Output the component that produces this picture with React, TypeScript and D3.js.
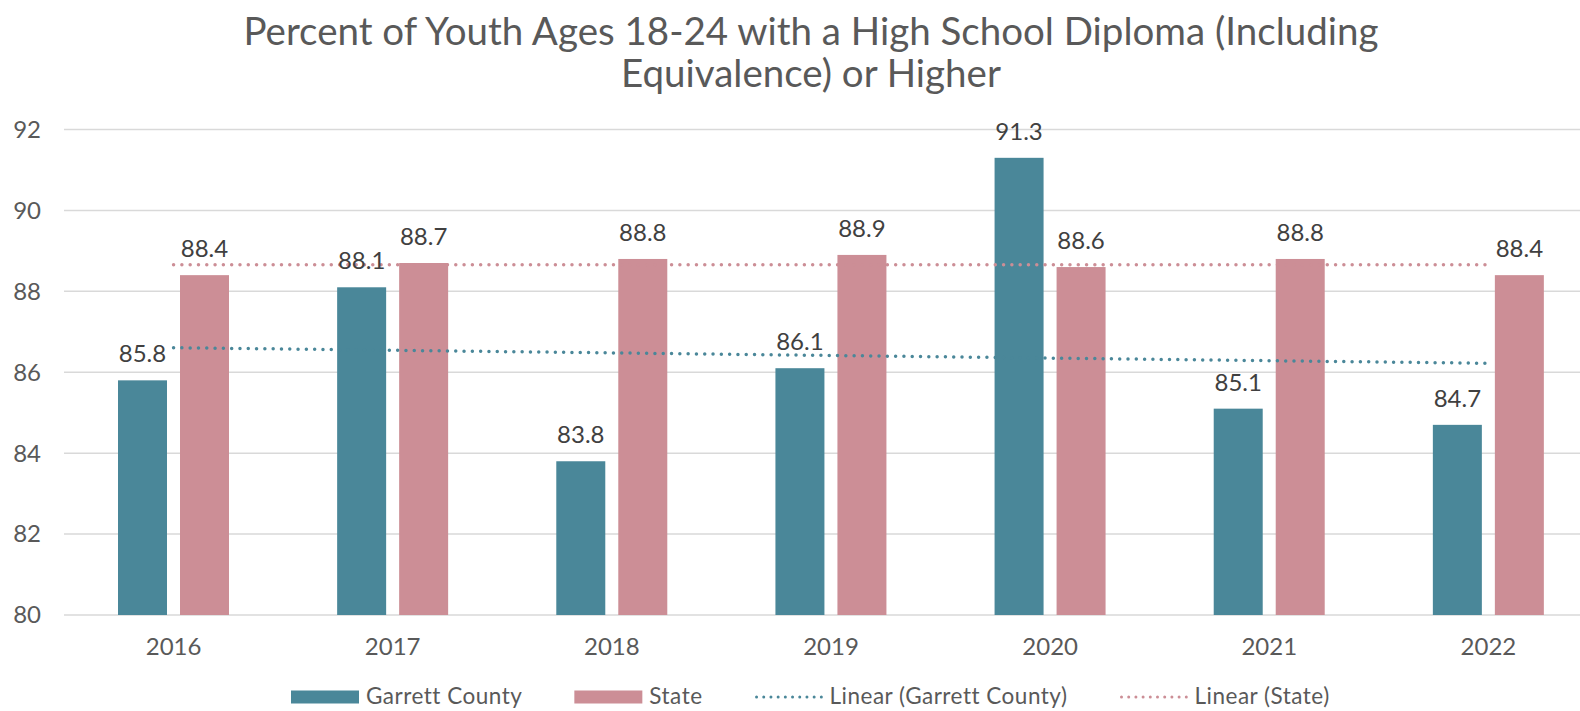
import React, { useEffect, useRef } from "react";
import * as d3 from "d3";

const years = ["2016", "2017", "2018", "2019", "2020", "2021", "2022"];
const garrettValues = [85.8, 88.1, 83.8, 86.1, 91.3, 85.1, 84.7];
const stateValues = [88.4, 88.7, 88.8, 88.9, 88.6, 88.8, 88.4];
const yTicks = [80, 82, 84, 86, 88, 90, 92];
const seriesNames = ["Garrett County", "State"];
const titleLines = [
  "Percent of Youth Ages 18-24 with a High School Diploma (Including",
  "Equivalence) or Higher",
];

const colors = {
  "Garrett County": "#4a8799", // teal
  State: "#cc8e96", // dusty rose
};

// least squares line, same as excel's linear trendline
function linearFit(values: number[]) {
  const n = values.length;
  const xs = values.map((_, i) => i + 1);
  const mx = d3.mean(xs)!;
  const my = d3.mean(values)!;
  let sxy = 0;
  let sxx = 0;
  xs.forEach((x, i) => {
    sxy += (x - mx) * (values[i] - my);
    sxx += (x - mx) * (x - mx);
  });
  const slope = sxy / sxx;
  return [my + slope * (1 - mx), my + slope * (n - mx)];
}

export default function App() {
  const ref = useRef<SVGSVGElement>(null);

  useEffect(() => {
    const width = 1580;
    const height = 711;
    const svg = d3.select(ref.current);
    svg.selectAll("*").remove();
    svg.attr("width", width).attr("height", height);

    const font = "Lato, 'Noto Sans', sans-serif";
    const textColor = "#595959";

    const x0 = d3.scaleBand<string>().domain(years).range([64, 1598]);
    const x1 = d3
      .scaleBand<string>()
      .domain(seriesNames)
      .range([54, 165])
      .paddingInner(0.2097);
    const y = d3.scaleLinear().domain([80, 92]).range([615, 129.5]);

    // title
    svg
      .append("g")
      .selectAll("text")
      .data(titleLines)
      .join("text")
      .attr("x", 811)
      .attr("y", (_d, i) => 45 + i * 42)
      .attr("text-anchor", "middle")
      .attr("font-family", font)
      .attr("font-size", 38.5)
      .attr("fill", textColor)
      .text((d) => d);

    // gridlines
    svg
      .append("g")
      .selectAll("line")
      .data(yTicks)
      .join("line")
      .attr("x1", 64)
      .attr("x2", width)
      .attr("y1", (d) => y(d))
      .attr("y2", (d) => y(d))
      .attr("stroke", "#d9d9d9")
      .attr("stroke-width", 1.5);

    // y tick labels
    svg
      .append("g")
      .selectAll("text")
      .data(yTicks)
      .join("text")
      .attr("x", 41)
      .attr("y", (d) => y(d))
      .attr("dy", "0.35em")
      .attr("text-anchor", "end")
      .attr("font-family", font)
      .attr("font-size", 24)
      .attr("fill", textColor)
      .text((d) => d);

    // x labels
    svg
      .append("g")
      .selectAll("text")
      .data(years)
      .join("text")
      .attr("x", (d) => x0(d)! + x0.bandwidth() / 2)
      .attr("y", 655)
      .attr("text-anchor", "middle")
      .attr("font-family", font)
      .attr("font-size", 24)
      .attr("fill", textColor)
      .text((d) => d);

    const series = [garrettValues, stateValues];
    const bars = years.flatMap((yr, i) =>
      seriesNames.map((name, s) => ({ yr, name, value: series[s][i] })),
    );

    svg
      .append("g")
      .selectAll("rect")
      .data(bars)
      .join("rect")
      .attr("x", (d) => x0(d.yr)! + x1(d.name)!)
      .attr("y", (d) => y(d.value))
      .attr("width", x1.bandwidth())
      .attr("height", (d) => y(80) - y(d.value))
      .attr("fill", (d) => colors[d.name as keyof typeof colors]);

    // trendlines go over the bars
    const trendLine = d3
      .line<number>()
      .x((_d, i) => x0(years[i === 0 ? 0 : years.length - 1])! + x0.bandwidth() / 2)
      .y((d) => y(d));

    seriesNames.forEach((name, s) => {
      svg
        .append("path")
        .attr("d", trendLine(linearFit(series[s])))
        .attr("fill", "none")
        .attr("stroke", colors[name as keyof typeof colors])
        .attr("stroke-width", 3.5)
        .attr("stroke-linecap", "round")
        .attr("stroke-dasharray", "0 8.3");
    });

    // data labels
    svg
      .append("g")
      .selectAll("text")
      .data(bars)
      .join("text")
      .attr("x", (d) => x0(d.yr)! + x1(d.name)! + x1.bandwidth() / 2)
      .attr("y", (d) => y(d.value) - 18)
      .attr("text-anchor", "middle")
      .attr("font-family", font)
      .attr("font-size", 24)
      .attr("fill", "#404040")
      .text((d) => d.value.toFixed(1));

    // legend
    const legendItems = [
      { label: "Garrett County", color: colors["Garrett County"], kind: "bar" },
      { label: "State", color: colors.State, kind: "bar" },
      { label: "Linear (Garrett County)", color: colors["Garrett County"], kind: "line" },
      { label: "Linear (State)", color: colors.State, kind: "line" },
    ];
    const legend = svg.append("g");
    const ly = 697;
    let lx = 291;
    legendItems.forEach((item) => {
      const g = legend.append("g").attr("transform", `translate(${lx},${ly})`);
      if (item.kind === "bar") {
        g.append("rect")
          .attr("x", 0)
          .attr("y", -6.5)
          .attr("width", 68)
          .attr("height", 13)
          .attr("fill", item.color);
      } else {
        g.append("line")
          .attr("x1", 2)
          .attr("x2", 67)
          .attr("y1", 0)
          .attr("y2", 0)
          .attr("stroke", item.color)
          .attr("stroke-width", 3)
          .attr("stroke-linecap", "round")
          .attr("stroke-dasharray", "0 7.2");
      }
      const t = g
        .append("text")
        .attr("x", 75)
        .attr("y", 0)
        .attr("dy", "0.33em")
        .attr("font-family", font)
        .attr("font-size", 22.5)
        .attr("letter-spacing", 0.5)
        .attr("fill", textColor)
        .text(item.label);
      const w = (t.node() as SVGTextElement).getComputedTextLength();
      lx += 75 + w + 52;
    });
  }, []);

  return (
    <svg
      ref={ref}
      style={{ position: "absolute", left: 0, top: 0, background: "#fff" }}
    />
  );
}
